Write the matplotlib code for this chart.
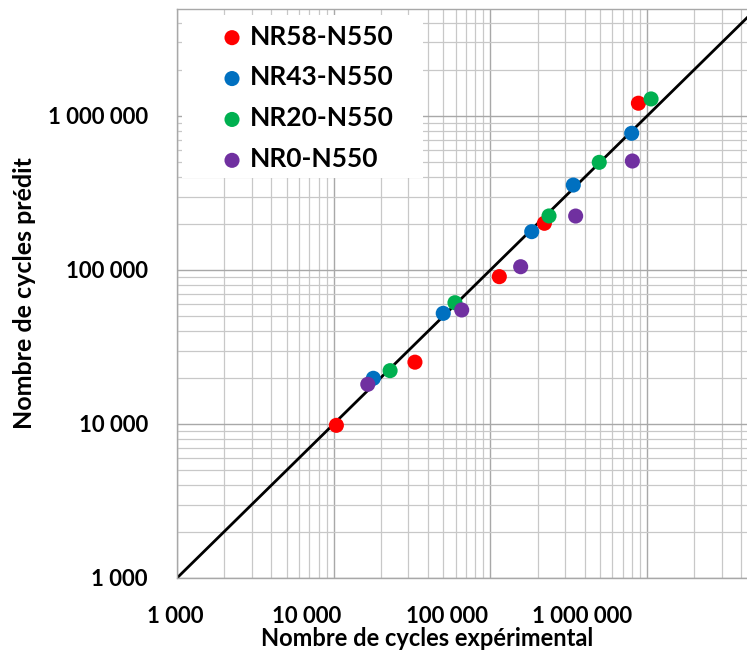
import matplotlib
matplotlib.use("Agg")
import matplotlib.pyplot as plt
import matplotlib.transforms as mtransforms
from matplotlib.patches import Rectangle
import numpy as np

# ---- data ----
series_names = ["NR58-N550", "NR43-N550", "NR20-N550", "NR0-N550"]
series_colors = ["#FF0000", "#0070C0", "#00B050", "#7030A0"]

nr58_exp = [10400, 33000, 114000, 221000, 880000]
nr58_pred = [9800, 25200, 90500, 201000, 1210000]

nr43_exp = [17900, 50000, 183500, 338000, 797000]
nr43_pred = [19800, 52300, 177400, 356000, 772000]

nr20_exp = [22900, 59400, 236600, 495000, 1060000]
nr20_pred = [22200, 61300, 224300, 500000, 1290000]

nr0_exp = [16500, 65600, 156000, 350000, 805000]
nr0_pred = [18100, 55000, 105000, 224000, 510000]

tick_values = [1000, 10000, 100000, 1000000]
tick_labels = ["1 000", "10 000", "100 000", "1 000 000"]

x_label = "Nombre de cycles expérimental"
y_label = "Nombre de cycles prédit"

# ---- figure ----
W, H = 747, 669
DPI = 100
plt.rcParams['font.family'] = ['Lato', 'DejaVu Sans']
fig = plt.figure(figsize=(W / DPI, H / DPI), dpi=DPI)

left_px, right_px, top_px, bottom_px = 177, 747, 9, 578
AW, AH = right_px - left_px, bottom_px - top_px
ax = fig.add_axes([left_px / W, 1 - bottom_px / H, AW / W, AH / H])

ax.set_xscale('log')
ax.set_yscale('log')
ax.set_xlim(1000, 4.34e6)
ax.set_ylim(1000, 4.95e6)

ax.grid(True, which='major', color='#A8A8A8', linewidth=1.0, zorder=0)
ax.grid(True, which='minor', color='#C8C8C8', linewidth=0.9, zorder=0)
ax.set_axisbelow(True)

# identity line
ident = np.array([1000, 5e6])
ax.plot(ident, ident, color='black', linewidth=2.0, zorder=2)

all_exp = [nr58_exp, nr43_exp, nr20_exp, nr0_exp]
all_pred = [nr58_pred, nr43_pred, nr20_pred, nr0_pred]
handles = []
for xe, yp, c, n in zip(all_exp, all_pred, series_colors, series_names):
    h = ax.scatter(xe, yp, s=118, color=c, edgecolors='none', label=n, zorder=3)
    handles.append(h)

for s in ['left', 'bottom', 'top']:
    ax.spines[s].set_color('#A8A8A8')
    ax.spines[s].set_linewidth(1.0)
ax.spines['right'].set_visible(False)

ax.set_xticks(tick_values)
ax.set_xticklabels(tick_labels)
ax.set_yticks(tick_values)
ax.set_yticklabels(tick_labels)
ax.tick_params(which='both', length=0)
ax.tick_params(axis='x', pad=20, labelsize=16)
ax.tick_params(axis='y', pad=21, labelsize=16)
for lbl in ax.get_xticklabels() + ax.get_yticklabels():
    lbl.set_fontweight('bold')

# shift x tick labels as in reference
shifts_px = [-2, -27, -43, -65]
for lbl, sp in zip(ax.get_xticklabels(), shifts_px):
    off = mtransforms.ScaledTranslation(sp / DPI, 0, fig.dpi_scale_trans)
    lbl.set_transform(lbl.get_transform() + off)

ax.set_xlabel(x_label, fontsize=17, fontweight='bold')
ax.xaxis.set_label_coords((427 - left_px) / AW, -(638 - bottom_px) / AH, transform=ax.transAxes)
ax.xaxis.label.set_va('center')
ax.set_ylabel(y_label, fontsize=18, fontweight='bold')
ax.yaxis.set_label_coords(-(left_px - 25) / AW, 0.5, transform=ax.transAxes)
ax.yaxis.label.set_va('center')

# white legend background box
bg = Rectangle(((182 - left_px) / AW, 1 - (178 - top_px) / AH),
               (423 - 182) / AW, (178 - 15) / AH, transform=ax.transAxes,
               facecolor='white', edgecolor='none', zorder=4)
ax.add_patch(bg)

leg = ax.legend(handles=handles, loc='upper left',
                bbox_to_anchor=((182 - left_px) / AW, 1 - (18 - top_px) / AH),
                frameon=False, prop={'size': 19, 'weight': 'bold'},
                handletextpad=-0.96, labelspacing=0.64, borderpad=0.25,
                borderaxespad=0, handlelength=3.29, scatterpoints=1)
leg.set_zorder(5)

fig.savefig("out.png", dpi=DPI)
